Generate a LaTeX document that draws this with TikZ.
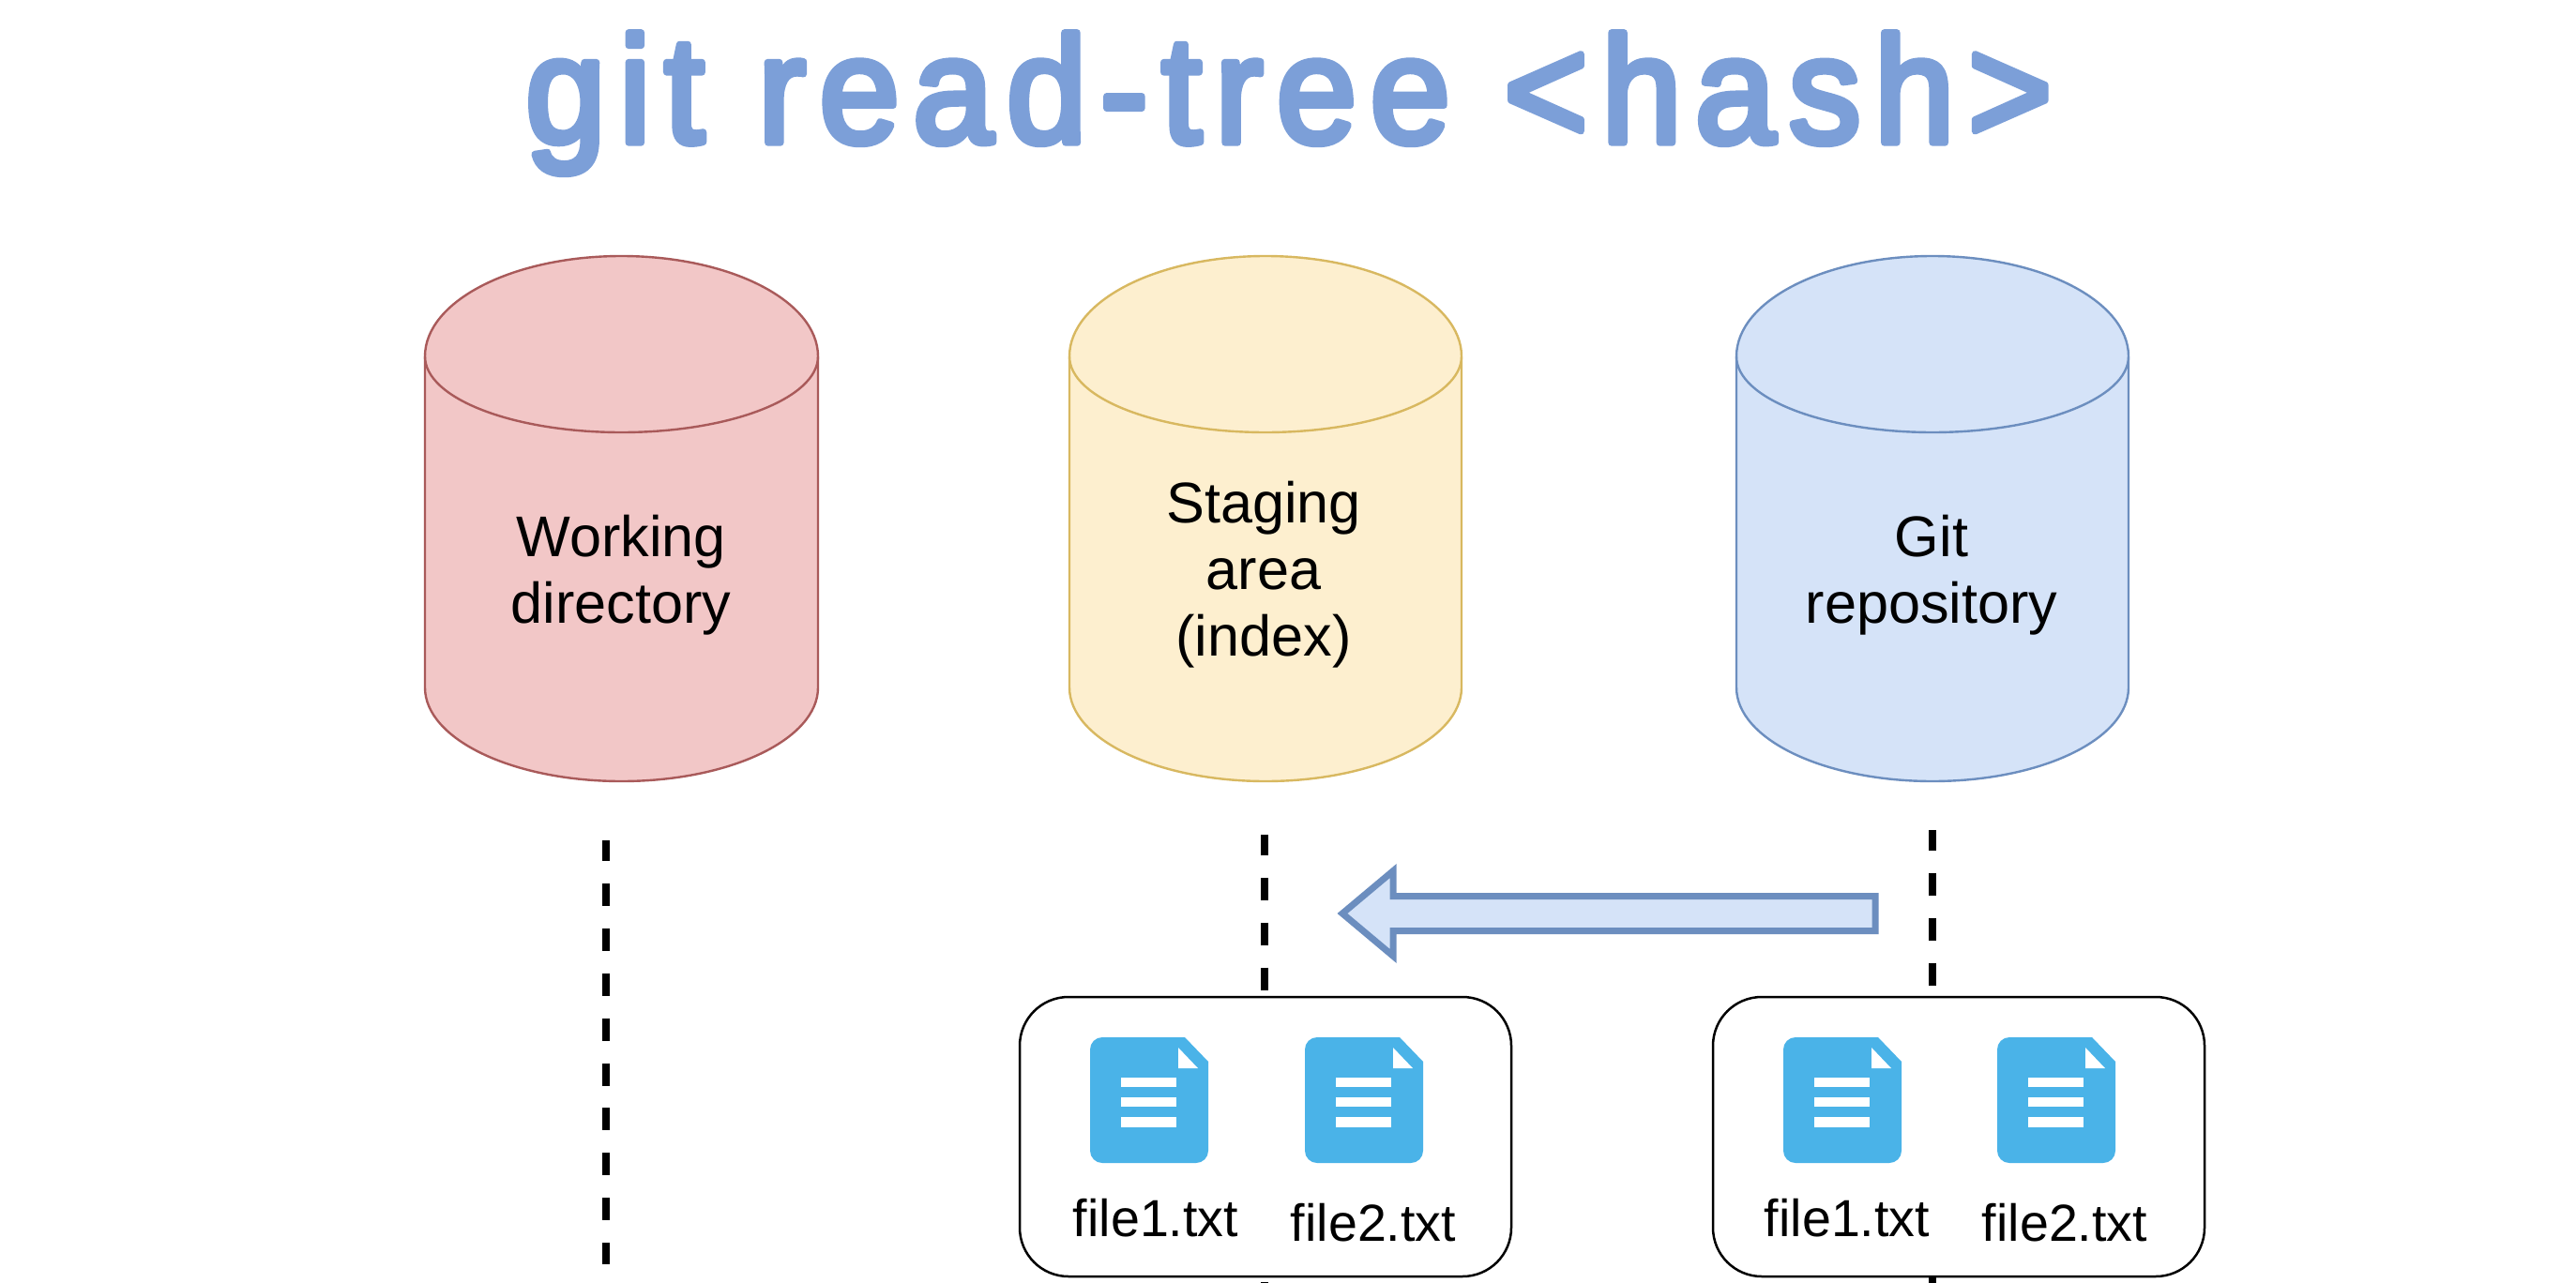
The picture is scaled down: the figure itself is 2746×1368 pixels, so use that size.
\documentclass[tikz,border=0pt]{standalone}
\usepackage{fontspec}
\usetikzlibrary{shapes.arrows}
\setmainfont{Liberation Sans}
\newfontfamily\titlefont[LetterSpace=9.2]{Liberation Sans}
\definecolor{titleblue}{HTML}{7C9FD8}
\definecolor{redfill}{HTML}{F2C7C7}
\definecolor{redline}{HTML}{A95A5A}
\definecolor{yelfill}{HTML}{FDEFCF}
\definecolor{yelline}{HTML}{D8B860}
\definecolor{blufill}{HTML}{D5E3F8}
\definecolor{bluline}{HTML}{6C8EBF}
\definecolor{filecol}{HTML}{4AB3E8}
\tikzset{
  x=0.5bp,y=-0.5bp,
  cyltext/.style={font=\fontsize{30.6bp}{35.5bp}\selectfont,align=center,text=black,inner sep=0pt},
  filelabel/.style={font=\fontsize{27.8bp}{32bp}\selectfont,text=black,inner sep=0pt,anchor=base},
  filebox/.style={draw=black,line width=1.25bp,fill=white,rounded corners=26bp,minimum width=262bp,minimum height=149bp,inner sep=0pt},
  dashline/.style={draw=black,line width=4.2bp,dash pattern=on 12bp off 11.95bp,dash phase=1bp},
}
\newcommand{\cylshape}[4]{% x-left, x-right, fill, line
  \pgfmathsetmacro{\rx}{(#2-#1)/2}
  \draw[fill=#3,draw=#4,line width=1.2bp]
    (#1,380) -- (#1,733) arc[start angle=180,end angle=0,x radius=\rx,y radius=100]
    -- (#2,380) arc[start angle=0,end angle=-180,x radius=\rx,y radius=107] -- cycle;
  \draw[draw=#4,line width=1.2bp]
    (#1,380) arc[start angle=180,end angle=0,x radius=\rx,y radius=81];
}
\newcommand{\fileicon}[2]{% x0,y0
  \begin{scope}[shift={(#1,#2)}]
    \fill[filecol] (13,0) -- (101,0) -- (126,26) -- (126,121) arc[start angle=0,end angle=90,radius=13] -- (13,134) arc[start angle=90,end angle=180,radius=13] -- (0,13) arc[start angle=180,end angle=270,radius=13] -- cycle;
    \fill[white] (94,11) -- (94,33) -- (115,33) -- cycle;
    \fill[white] (33,43) rectangle (92,53);
    \fill[white] (33,64) rectangle (92,74);
    \fill[white] (33,85) rectangle (92,96);
  \end{scope}
}
\begin{document}
\begin{tikzpicture}
\path[use as bounding box,fill=white] (0,0) rectangle (2746,1368);

\node[inner sep=0pt,text=titleblue,anchor=base,yscale=1.05,transform shape] (title) at (1374,152)
  {\fontsize{77bp}{88bp}\selectfont\titlefont\special{pdf:literal direct 1 j 1 J 2 Tr 3.5 w}git read-tree <hash>\special{pdf:literal direct 0 Tr}};

\cylshape{453}{872}{redfill}{redline}
\cylshape{1140}{1558}{yelfill}{yelline}
\cylshape{1851}{2269}{blufill}{bluline}
\node[cyltext] (work) at (662,613) {Working\\directory};
\node[cyltext] (stage) at (1347,613) {Staging\\area\\(index)};
\node[cyltext] (repo) at (2059,613) {Git\\repository};

\coordinate (lt) at (646,896);
\coordinate (lb) at (646,1348);
\coordinate (mt) at (1348,890);
\coordinate (mb) at (1348,1368);
\coordinate (rt) at (2060,885);
\coordinate (rb) at (2060,1368);
\draw[dashline] (lt) -- (lb);
\draw[dashline] (mt) -- (mb);
\draw[dashline] (rt) -- (rb);

\node[single arrow,shape border rotate=180,draw=bluline,fill=blufill,line width=3.5bp,
  minimum height=284bp,minimum width=42bp,single arrow head extend=13.5bp,
  single arrow tip angle=80,single arrow head indent=0pt,inner xsep=0pt,inner ysep=7.5bp,anchor=center] (copy) at (1726,974) {};

\node[filebox] (stagebox) at (1349,1212) {};
\node[filebox] (repobox) at (2088,1212) {};

\fileicon{1162}{1106}
\fileicon{1391}{1106}
\fileicon{1901}{1106}
\fileicon{2129}{1106}
\node[filelabel] (f1a) at (1232,1318) {file1.txt};
\node[filelabel] (f2a) at (1464,1323) {file2.txt};
\node[filelabel] (f1b) at (1969,1318) {file1.txt};
\node[filelabel] (f2b) at (2201,1323) {file2.txt};
\end{tikzpicture}
\end{document}
